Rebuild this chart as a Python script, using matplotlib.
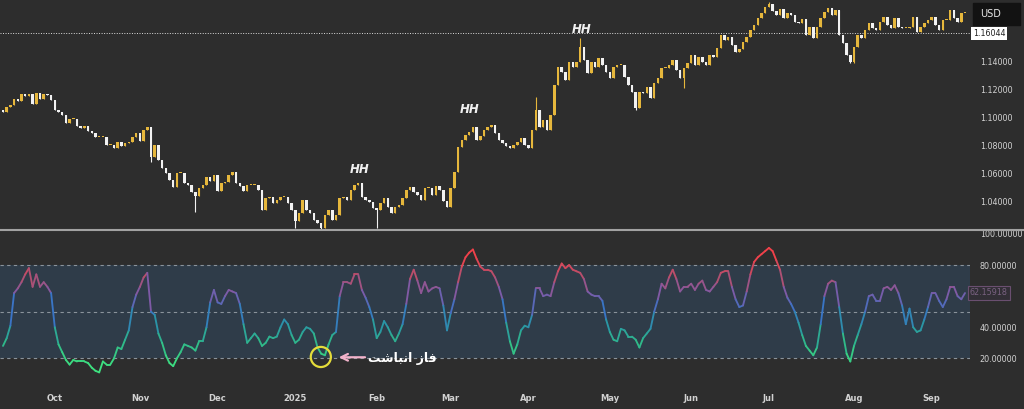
"""
EUR/USD daily candles with a colour-graded oscillator underneath,
dark trading-terminal look.
"""

import matplotlib

matplotlib.use("Agg")
import matplotlib.pyplot as plt
import numpy as np
import pandas as pd
from matplotlib.collections import LineCollection
from matplotlib.colors import LinearSegmentedColormap, Normalize
from matplotlib.lines import Line2D
from matplotlib.patches import Rectangle

# daily closes, 2024-09-11 .. 2025-09-12 (one per bar)
closes = [
    1.1042, 1.1078, 1.1092, 1.1135, 1.1121, 1.1171, 1.1157, 1.1171, 1.1099, 1.1178,
    1.1135, 1.1171, 1.1164, 1.1128, 1.1057, 1.1042, 1.1021, 1.0964, 1.0992, 1.0992,
    1.0942, 1.0928, 1.0942, 1.0907, 1.0892, 1.0864, 1.0864, 1.0864, 1.0807, 1.0807,
    1.0785, 1.0828, 1.0800, 1.0821, 1.0828, 1.0864, 1.0892, 1.0835, 1.0914, 1.0935,
    1.0721, 1.0807, 1.0700, 1.0642, 1.0607, 1.0557, 1.0507, 1.0607, 1.0607, 1.0535,
    1.0521, 1.0471, 1.0443, 1.0500, 1.0521, 1.0578, 1.0550, 1.0592, 1.0478, 1.0535,
    1.0543, 1.0592, 1.0614, 1.0535, 1.0514, 1.0478, 1.0521, 1.0521, 1.0521, 1.0485,
    1.0343, 1.0428, 1.0435, 1.0393, 1.0414, 1.0435, 1.0435, 1.0393, 1.0343, 1.0264,
    1.0321, 1.0414, 1.0343, 1.0321, 1.0271, 1.0250, 1.0214, 1.0307, 1.0343, 1.0271,
    1.0307, 1.0428, 1.0435, 1.0414, 1.0485, 1.0521, 1.0535, 1.0435, 1.0414, 1.0400,
    1.0357, 1.0343, 1.0393, 1.0428, 1.0364, 1.0321, 1.0364, 1.0378, 1.0428, 1.0485,
    1.0507, 1.0471, 1.0450, 1.0414, 1.0500, 1.0500, 1.0450, 1.0514, 1.0485, 1.0407,
    1.0364, 1.0500, 1.0614, 1.0792, 1.0842, 1.0878, 1.0900, 1.0935, 1.0842, 1.0871,
    1.0914, 1.0935, 1.0949, 1.0892, 1.0842, 1.0821, 1.0800, 1.0785, 1.0807, 1.0828,
    1.0857, 1.0807, 1.0785, 1.0914, 1.1057, 1.0935, 1.0985, 1.0914, 1.1021, 1.1235,
    1.1364, 1.1328, 1.1271, 1.1399, 1.1364, 1.1399, 1.1506, 1.1414, 1.1321, 1.1399,
    1.1364, 1.1428, 1.1378, 1.1328, 1.1285, 1.1364, 1.1378, 1.1378, 1.1292, 1.1235,
    1.1185, 1.1071, 1.1185, 1.1178, 1.1221, 1.1142, 1.1249, 1.1285, 1.1356, 1.1356,
    1.1378, 1.1414, 1.1342, 1.1285, 1.1356, 1.1392, 1.1449, 1.1378, 1.1435, 1.1399,
    1.1378, 1.1449, 1.1435, 1.1499, 1.1592, 1.1556, 1.1578, 1.1521, 1.1471, 1.1492,
    1.1542, 1.1578, 1.1628, 1.1663, 1.1713, 1.1749, 1.1792, 1.1813, 1.1763, 1.1735,
    1.1778, 1.1713, 1.1749, 1.1735, 1.1685, 1.1678, 1.1706, 1.1592, 1.1649, 1.1571,
    1.1649, 1.1713, 1.1756, 1.1785, 1.1735, 1.1771, 1.1592, 1.1535, 1.1449, 1.1399,
    1.1506, 1.1592, 1.1571, 1.1628, 1.1678, 1.1642, 1.1628, 1.1685, 1.1721, 1.1663,
    1.1642, 1.1713, 1.1649, 1.1642, 1.1642, 1.1649, 1.1721, 1.1614, 1.1649, 1.1678,
    1.1699, 1.1721, 1.1663, 1.1628, 1.1699, 1.1699, 1.1771, 1.1713, 1.1685, 1.1749,
    1.1749,
]
first_open = 1.1060

# only the long shadows are worth listing
wick_high = {144: 1.1149, 156: 1.1571, 207: 1.1828}
wick_low = {40: 1.0685, 52: 1.0331, 79: 1.0214, 86: 1.0200, 101: 1.0214,
            171: 1.1057, 184: 1.1214, 229: 1.1392, 230: 1.1392}

# oscillator, one value per bar
osc = [
    28, 33, 41, 62, 65, 69, 74, 78, 66, 74,
    66, 69, 66, 62, 40, 29, 24, 19, 16, 19,
    18, 18, 18, 17, 14, 12, 11, 18, 16, 16,
    20, 27, 26, 32, 38, 53, 61, 66, 72, 75,
    50, 48, 36, 30, 22, 17, 15, 20, 24, 29,
    28, 27, 25, 31, 31, 40, 56, 64, 56, 55,
    60, 64, 63, 62, 55, 42, 30, 33, 36, 33,
    28, 30, 34, 33, 34, 40, 45, 42, 35, 30,
    32, 37, 40, 39, 36, 27, 23, 22, 29, 35,
    37, 60, 69, 69, 68, 74, 74, 64, 59, 53,
    45, 33, 37, 44, 40, 35, 31, 36, 42, 55,
    71, 77, 70, 62, 69, 63, 65, 66, 65, 54,
    38, 49, 58, 69, 79, 85, 88, 90, 84, 79,
    77, 77, 76, 72, 66, 58, 43, 31, 23, 29,
    38, 41, 40, 48, 65, 65, 60, 61, 60, 69,
    76, 81, 78, 80, 77, 76, 75, 71, 63, 61,
    60, 60, 57, 45, 37, 32, 31, 39, 38, 34,
    34, 32, 27, 33, 36, 39, 50, 58, 68, 65,
    72, 77, 71, 63, 66, 66, 68, 64, 68, 70,
    64, 63, 66, 69, 75, 76, 76, 66, 58, 53,
    54, 63, 74, 82, 85, 87, 89, 91, 89, 83,
    77, 66, 59, 55, 50, 43, 35, 28, 25, 22,
    27, 42, 60, 68, 70, 69, 53, 36, 23, 18,
    28, 35, 42, 50, 60, 61, 57, 57, 65, 66,
    64, 67, 62, 54, 42, 52, 40, 37, 38, 45,
    53, 62, 62, 57, 53, 58, 66, 66, 60, 58,
    62,
]

holidays = ["2024-12-25", "2025-01-01"]
price_ticks = [1.04, 1.06, 1.08, 1.10, 1.12, 1.14]
osc_ticks = [20, 40, 80, 100]
osc_levels = [20, 50, 80]
last_price = 1.16044
osc_last = 62.15918
hh_marks = [(96.5, 1.0635), (126.2, 1.1057), (156.5, 1.1628)]  # (bar, price)
note_text = "\ufe96\ufeb7\ufe8e\ufe92\ufee7\ufe8d \ufeaf\ufe8e\ufed3"  # فاز انباشت, pre-shaped

BG = "#2d2d2d"
BAND = "#2f3c49"
UP = "#e6b73c"
DOWN = "#f2f2f2"
TXT = "#d2d2d2"

n = len(closes)
x = np.arange(n)
dates = pd.bdate_range("2024-09-11", periods=n + 5)
dates = dates[~dates.isin(pd.to_datetime(holidays))][:n]

c = np.array(closes)
o = np.concatenate([[first_open], c[:-1]])  # FX daily: open = previous close
hi = np.maximum(o, c)
lo = np.minimum(o, c)
for k, val in wick_high.items():
    hi[k] = val
for k, val in wick_low.items():
    lo[k] = val
colors = np.where(c >= o, UP, DOWN)

W, H = 1024, 409
fig = plt.figure(figsize=(W / 100, H / 100), dpi=100, facecolor=BG)
ax1 = fig.add_axes([0, 1 - 230 / H, 970 / W, 230 / H], facecolor=BG)
ax2 = fig.add_axes([0, 1 - 388 / H, 970 / W, (388 - 231) / H], facecolor=BG)

xlim = (-0.81, 261.35)

# ---- price panel
ax1.vlines(x, lo, hi, colors=colors, lw=0.8, zorder=2)
ax1.bar(x, np.maximum(np.abs(c - o), 0.0006), bottom=np.minimum(o, c),
        width=0.68, color=colors, zorder=3, linewidth=0)
ax1.axhline(last_price, color="#dddddd", lw=0.7, ls=(0, (1, 1.6)), zorder=1)
for bx, py in hh_marks:
    ax1.text(bx, py, "HH", color="#f0f0f0", fontsize=8.5, fontweight="bold",
             style="italic", ha="center", va="center")

ax1.set_xlim(*xlim)
ax1.set_ylim(1.02, 1.1842)
ax1.set_xticks([])
ax1.yaxis.tick_right()
ax1.set_yticks(price_ticks)
ax1.set_yticklabels([f"{p:.5f}" for p in price_ticks])
ax1.tick_params(axis="y", length=0, pad=7, labelsize=5.8, colors=TXT)
for s in ax1.spines.values():
    s.set_visible(False)

ax1.text(1.003, last_price, f"{last_price:.5f}", transform=ax1.get_yaxis_transform(),
         ha="left", va="center", fontsize=5.8, color="#222222", clip_on=False,
         bbox=dict(boxstyle="square,pad=0.25", facecolor="white", edgecolor="none"))

# ---- oscillator panel
ax2.axhspan(20, 80, color=BAND, zorder=0, lw=0)
for lvl in osc_levels:
    ax2.axhline(lvl, color="#8a939b", lw=0.8, ls=(0, (3, 3)), zorder=1)

cmap = LinearSegmentedColormap.from_list("osc", [
    (0.00, "#3ee07f"), (0.22, "#2fb88a"), (0.38, "#2a95a6"), (0.52, "#3a74c6"),
    (0.68, "#7f5aa6"), (0.82, "#b3506f"), (1.00, "#f0414a")])
norm = Normalize(15, 85)
v = np.array(osc, dtype=float)
pts = np.column_stack([x, v])
segs = np.stack([pts[:-1], pts[1:]], axis=1)
lc = LineCollection(segs, colors=cmap(norm((v[:-1] + v[1:]) / 2)), lw=1.35,
                    capstyle="round", joinstyle="round", zorder=3)
ax2.add_collection(lc)

ax2.set_xlim(*xlim)
ax2.set_ylim(0.95, 101.9)
ax2.yaxis.tick_right()
ax2.set_yticks(osc_ticks)
ax2.set_yticklabels([f"{t:.5f}" for t in osc_ticks])
ax2.tick_params(axis="y", length=0, pad=7, labelsize=5.8, colors=TXT)

month = dates.month
starts = [i for i in range(1, n) if month[i] != month[i - 1]]
labels = [str(dates[i].year) if dates[i].month == 1 else dates[i].strftime("%b") for i in starts]
ax2.set_xticks(starts)
ax2.set_xticklabels(labels)
ax2.tick_params(axis="x", length=0, pad=4, labelsize=6, colors=TXT)
for lab in ax2.get_xticklabels():
    lab.set_fontweight("bold")
for s in ax2.spines.values():
    s.set_visible(False)

ax2.text(1.0, osc_last, f"{osc_last:.5f}", transform=ax2.get_yaxis_transform(),
         ha="left", va="center", fontsize=5.8, color="#7a6282", clip_on=False,
         bbox=dict(boxstyle="square,pad=0.3", facecolor="#322f36", edgecolor="#6a4f70", lw=0.8))

# accumulation marker
ax2.scatter([85.9], [20.9], s=210, facecolors="none", edgecolors="#e4dc3a", lw=1.6, zorder=5)
ax2.annotate("", xy=(90.0, 20.7), xytext=(98.6, 20.7),
             arrowprops=dict(arrowstyle="->", color="#f2b3cc", lw=1.6, mutation_scale=12))
ax2.text(107.8, 20.2, note_text, color="white", fontsize=9, fontweight="bold",
         ha="center", va="center", family="DejaVu Sans")

# panel separator + currency badge
fig.add_artist(Line2D([0, 1], [1 - 230.5 / H] * 2, color="#a2a2a2", lw=1.5))
fig.add_artist(Rectangle((973 / W, 1 - 25 / H), 47 / W, 22 / H,
                         transform=fig.transFigure, color="#121212"))
fig.text(980 / W, 1 - 14 / H, "USD", color="#e6e6e6", fontsize=7, va="center")

fig.savefig("out.png", dpi=100, facecolor=BG)
